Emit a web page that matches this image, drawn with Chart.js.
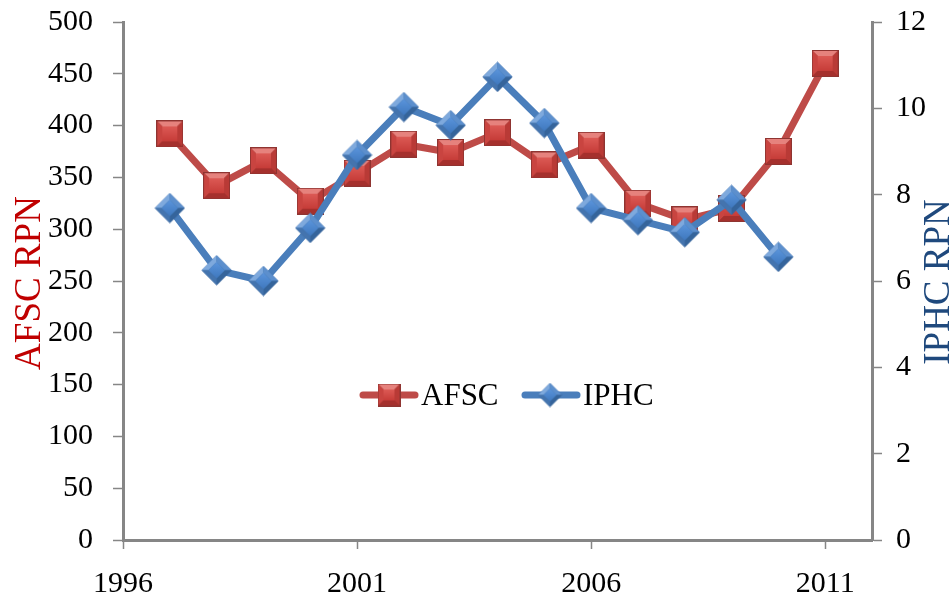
<!DOCTYPE html>
<html>
<head>
<meta charset="utf-8">
<script src="https://cdn.jsdelivr.net/npm/chart.js@4.4.1/dist/chart.umd.min.js"></script>
<style>
  html, body { margin: 0; padding: 0; background: #ffffff; }
  #wrap { width: 951px; height: 603px; position: relative; }
</style>
</head>
<body>
<div id="wrap"><canvas id="c" width="951" height="603"></canvas></div>
<script>
// ---- data ----
const years = [1997, 1998, 1999, 2000, 2001, 2002, 2003, 2004, 2005, 2006, 2007, 2008, 2009, 2010, 2011];
const afscRPN = [392, 342, 366, 327, 354, 382, 374, 393, 362, 381, 325, 309, 320, 375, 460];
const iphcYears = [1997, 1998, 1999, 2000, 2001, 2002, 2003, 2004, 2005, 2006, 2007, 2008, 2009, 2010];
const iphcRPN = [7.69, 6.25, 6.0, 7.23, 8.92, 10.03, 9.61, 10.73, 9.66, 7.69, 7.41, 7.13, 7.88, 6.56];
const xTicks = [1996, 2001, 2006, 2011];
const seriesNames = ['AFSC', 'IPHC'];
const axisTitles = ['AFSC RPN', 'IPHC RPN'];

// ---- marker images (beveled) ----
function makeSquare(s) {
  const c = document.createElement('canvas');
  c.width = s; c.height = s;
  const g = c.getContext('2d');
  const b = Math.round(s * 0.2);
  g.fillStyle = '#8f3431';
  g.fillRect(0, 0, s, s);
  const p = 1;
  function quad(pts, col) {
    g.beginPath(); g.moveTo(pts[0][0], pts[0][1]);
    for (let i = 1; i < pts.length; i++) g.lineTo(pts[i][0], pts[i][1]);
    g.closePath(); g.fillStyle = col; g.fill();
  }
  const a = p, z = s - p;
  quad([[a, a], [z, a], [z - b, a + b], [a + b, a + b]], '#e6827d');
  quad([[a, a], [a + b, a + b], [a + b, z - b], [a, z]], '#c94440');
  quad([[z, a], [z, z], [z - b, z - b], [z - b, a + b]], '#b93a36');
  quad([[a, z], [a + b, z - b], [z - b, z - b], [z, z]], '#a5302d');
  const gr = g.createLinearGradient(0, a + b, 0, z - b);
  gr.addColorStop(0, '#dc5a55');
  gr.addColorStop(1, '#c63c38');
  g.fillStyle = gr;
  g.fillRect(a + b, a + b, s - 2 * (a + b), s - 2 * (a + b));
  return c;
}
function makeDiamond(s) {
  const c = document.createElement('canvas');
  c.width = s; c.height = s;
  const g = c.getContext('2d');
  const m = s / 2, r = s / 2 - 0.5, ri = r * 0.55;
  function poly(pts, col) {
    g.beginPath(); g.moveTo(pts[0][0], pts[0][1]);
    for (let i = 1; i < pts.length; i++) g.lineTo(pts[i][0], pts[i][1]);
    g.closePath(); g.fillStyle = col; g.fill();
  }
  const T = [m, m - r], R = [m + r, m], B = [m, m + r], L = [m - r, m];
  const t = [m, m - ri], rr = [m + ri, m], bb = [m, m + ri], l = [m - ri, m];
  poly([T, R, B, L], '#3d6a9f');
  poly([L, T, t, l], '#7ea9dd');
  poly([T, R, rr, t], '#5c8fcd');
  poly([R, B, bb, rr], '#35649b');
  poly([B, L, l, bb], '#4474ae');
  const gr = g.createLinearGradient(0, m - ri, 0, m + ri);
  gr.addColorStop(0, '#5b95dc');
  gr.addColorStop(1, '#3f78be');
  g.beginPath(); g.moveTo(t[0], t[1]); g.lineTo(rr[0], rr[1]); g.lineTo(bb[0], bb[1]); g.lineTo(l[0], l[1]); g.closePath();
  g.fillStyle = gr; g.fill();
  return c;
}
const sqBig = makeSquare(27), sqSmall = makeSquare(23);
const diBig = makeDiamond(31), diSmall = makeDiamond(25);

const RED = '#be4b48', BLUE = '#4a7ebb', GRAY = '#868686';
const FONT = 'Liberation Serif, "Times New Roman", serif';

const overlay = {
  id: 'overlay',
  afterDraw(chart) {
    const ctx = chart.ctx;
    ctx.save();
    ctx.font = '37px ' + FONT;
    ctx.textAlign = 'center';
    ctx.textBaseline = 'alphabetic';
    const cy = (chart.chartArea.top + chart.chartArea.bottom) / 2;
    ctx.save();
    ctx.translate(40, cy + 2);
    ctx.rotate(-Math.PI / 2);
    ctx.fillStyle = '#c00000';
    ctx.fillText(axisTitles[0], 0, 0);
    ctx.restore();
    ctx.save();
    ctx.translate(949, cy + 1);
    ctx.rotate(-Math.PI / 2);
    ctx.fillStyle = '#1f497d';
    ctx.fillText(axisTitles[1], 0, 0);
    ctx.restore();
    // legend
    const ly = 395;
    ctx.lineCap = 'round';
    ctx.lineWidth = 7;
    ctx.strokeStyle = RED;
    ctx.beginPath(); ctx.moveTo(363, ly); ctx.lineTo(415, ly); ctx.stroke();
    ctx.drawImage(sqSmall, 389 - sqSmall.width / 2, ly - sqSmall.height / 2);
    ctx.strokeStyle = BLUE;
    ctx.beginPath(); ctx.moveTo(525, ly); ctx.lineTo(577, ly); ctx.stroke();
    ctx.drawImage(diSmall, 550 - diSmall.width / 2, ly - diSmall.height / 2);
    ctx.fillStyle = '#000';
    ctx.font = '31px ' + FONT;
    ctx.textAlign = 'left';
    ctx.textBaseline = 'middle';
    ctx.fillText(seriesNames[0], 421, ly + 2);
    ctx.fillText(seriesNames[1], 583, ly + 2);
    ctx.restore();
  }
};

const tickFont = { family: 'Liberation Serif', size: 30 };
const gridCommon = { drawOnChartArea: false, drawTicks: true, tickLength: 10, tickColor: GRAY, tickWidth: 1.5 };
const borderCommon = { color: GRAY, width: 3 };

new Chart(document.getElementById('c'), {
  type: 'line',
  data: {
    datasets: [
      {
        label: seriesNames[0],
        data: years.map((y, i) => ({ x: y, y: afscRPN[i] })),
        yAxisID: 'y',
        borderColor: RED,
        borderWidth: 7,
        pointStyle: sqBig,
        tension: 0,
        order: 1,
        clip: false
      },
      {
        label: seriesNames[1],
        data: iphcYears.map((y, i) => ({ x: y, y: iphcRPN[i] })),
        yAxisID: 'y1',
        borderColor: BLUE,
        borderWidth: 7,
        pointStyle: diBig,
        tension: 0,
        order: 0,
        clip: false
      }
    ]
  },
  options: {
    responsive: false,
    animation: false,
    events: [],
    layout: { padding: { top: 22, left: 0, right: 0, bottom: 0 } },
    plugins: { legend: { display: false }, tooltip: { enabled: false } },
    elements: { line: { borderJoinStyle: 'round', borderCapStyle: 'round' } },
    scales: {
      x: {
        type: 'linear', min: 1996, max: 2012,
        afterBuildTicks: s => { s.ticks = xTicks.map(v => ({ value: v })); },
        afterFit: s => { s.height = 63; s.paddingLeft = 0; s.paddingRight = 0; },
        grid: Object.assign({}, gridCommon, { tickLength: 9 }),
        border: borderCommon,
        ticks: { font: tickFont, color: '#000', padding: 17, maxRotation: 0, autoSkip: false,
                 callback: v => String(v) }
      },
      y: {
        position: 'left', min: 0, max: 500,
        afterFit: s => { s.width = 123; s.paddingTop = 0; s.paddingBottom = 0; },
        grid: gridCommon,
        border: borderCommon,
        ticks: { stepSize: 50, font: tickFont, color: '#000', padding: 20 }
      },
      y1: {
        position: 'right', min: 0, max: 12,
        afterFit: s => { s.width = 79; s.paddingTop = 0; s.paddingBottom = 0; },
        grid: gridCommon,
        border: borderCommon,
        ticks: { stepSize: 2, font: tickFont, color: '#000', padding: 14 }
      }
    }
  },
  plugins: [overlay]
});
</script>
</body>
</html>
